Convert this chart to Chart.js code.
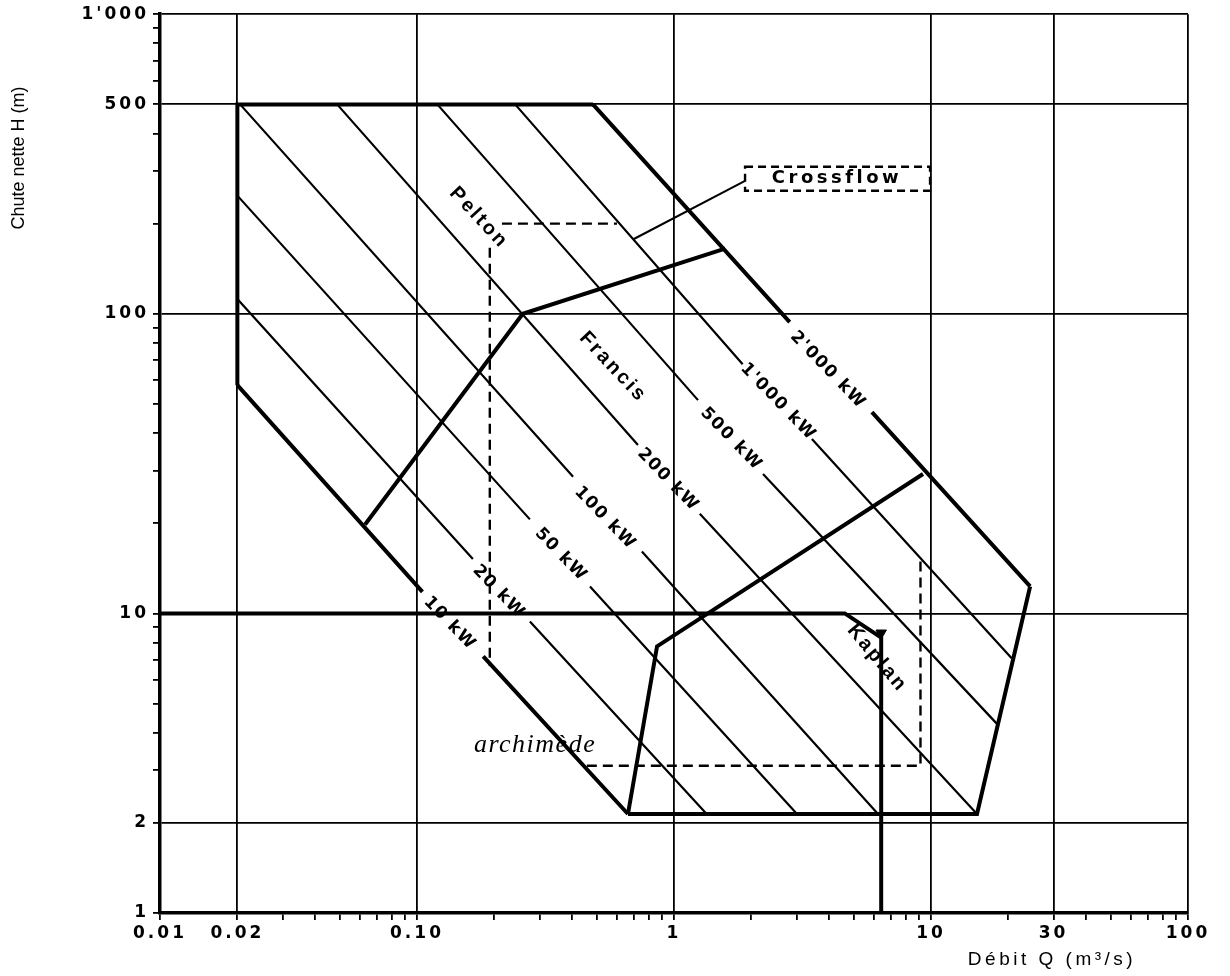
<!DOCTYPE html>
<html>
<head>
<meta charset="utf-8">
<script src="https://cdn.jsdelivr.net/npm/chart.js@4.4.0/dist/chart.umd.min.js"></script>
<style>
  html, body { margin: 0; padding: 0; background: #fff; }
  #wrap { width: 1230px; height: 976px; }
</style>
</head>
<body>
<div id="wrap"><canvas id="myChart"></canvas></div>
<script>
// axis ticks
const xTicks = [0.01, 0.02, 0.1, 1, 10, 30, 100];
const xTickLabels = ['0.01', '0.02', '0.10', '1', '10', '30', '100'];
const yTicks = [1, 2, 10, 100, 500, 1000];
const yTickLabels = ['1', '2', '10', '100', '500', "1'000"];

// iso-power lines as [Q, H] pairs, null = gap where the label sits
const kw10 = [[0.02, 57.8], [0.105, 11.8], null, [0.181, 7.19], [0.662, 2.14]];
const kw20 = [[0.02, 112], [0.165, 15.2], null, [0.275, 9.4], [1.34, 2.14]];
const kw50 = [[0.02, 248], [0.275, 20.6], null, [0.471, 12.3], [3.01, 2.14]];
const kw100 = [[0.0205, 500], [0.405, 28.6], null, [0.75, 16.1], [6.22, 2.14]];
const kw200 = [[0.0489, 500], [0.724, 36.5], null, [1.26, 21.5], [15.1, 2.14]];
const kw500 = [[0.12, 500], [1.24, 51.5], null, [2.22, 29.2], [18.1, 4.27]];
const kw1000 = [[0.241, 500], [1.85, 67.9], null, [3.44, 38.2], [20.6, 7.08]];
const kw2000 = [[0.484, 500], [2.82, 93.8], null, [5.89, 47.0], [24.3, 12.3]];

const powerNames = ['10 kW', '20 kW', '50 kW', '100 kW', '200 kW', '500 kW', "1'000 kW", "2'000 kW"];
const powerLabelQ = [0.134, 0.208, 0.363, 0.539, 0.948, 1.67, 2.54, 3.97];
const powerLabelH = [9.27, 11.8, 15.7, 20.8, 27.9, 38.2, 50.8, 64.9];

// domain boundaries
const leftEdge = [[0.02, 57.8], [0.02, 500], [0.484, 500]];
const rightEdge = [[24.3, 12.3], [15.1, 2.14], [0.662, 2.14]];
const peltonFrancis = [[0.0628, 19.8], [0.258, 100], [1.58, 165]];
const francisKaplan = [[0.662, 2.14], [0.859, 7.76], [9.31, 29.2]];
const kaplanLimit = [[0.01, 10], [4.62, 10], [6.4, 8.3], [6.4, 1]];
const kaplanArrow = [[6.4, 8.6]];
const crossflow = [[0.214, 200], [0.6, 200], null, [0.192, 166], [0.192, 6.67], null, [0.458, 3.1], [9.1, 3.1], [9.1, 15.1]];
const crossflowLeader = [[0.692, 177], [1.89, 278]];

const turbineNames = ['Pelton', 'Francis', 'Kaplan'];
const turbineQ = [0.174, 0.579, 6.17];
const turbineH = [209, 66.4, 7.08];

// minor tick positions 1..9 per decade
const decadeTicks = (lo, hi) => {
  const out = [];
  for (let d = lo; d < hi; d *= 10) for (let k = 1; k < 10; k++) out.push(+(k * d).toPrecision(3));
  out.push(hi);
  return out;
};
const xAll = decadeTicks(0.01, 100);
const yAll = decadeTicks(1, 1000).filter(v => v >= 2 || v === 1);

const findIdx = (list, v) => list.findIndex(t => Math.abs(v - t) / t < 1e-6);

const toPoints = arr => arr.map((p, i) => p ? { x: p[0], y: p[1] } : { x: arr[i - 1][0], y: null });
const seg = (data, width, dash) => ({
  data: toPoints(data),
  showLine: true,
  borderColor: '#000',
  backgroundColor: '#000',
  borderWidth: width,
  borderDash: dash || [],
  pointRadius: 0,
  tension: 0
});

const drawText = (ctx, text, x, y, angle, font, spacing) => {
  ctx.save();
  ctx.translate(x, y);
  ctx.rotate(angle * Math.PI / 180);
  ctx.font = font;
  ctx.letterSpacing = spacing + 'px';
  ctx.textAlign = 'center';
  ctx.textBaseline = 'middle';
  ctx.fillStyle = '#000';
  ctx.fillText(text, 0, 0);
  ctx.restore();
};

const annotations = {
  id: 'annotations',
  beforeDraw(chart) { chart.ctx.letterSpacing = '3px'; },
  afterDraw(chart) {
    const { ctx, scales: { x, y } } = chart;
    powerNames.forEach((t, i) => {
      drawText(ctx, t, x.getPixelForValue(powerLabelQ[i]), y.getPixelForValue(powerLabelH[i]), 46, 'bold 17px "DejaVu Sans"', 1.5);
    });
    turbineNames.forEach((t, i) => {
      drawText(ctx, t, x.getPixelForValue(turbineQ[i]), y.getPixelForValue(turbineH[i]), i === 2 ? 50 : 47, 'bold 20px "Liberation Sans"', 2.5);
    });
    drawText(ctx, 'archimède', x.getPixelForValue(0.288), y.getPixelForValue(3.64), 0, 'italic 26px "Liberation Serif"', 1.5);

    // Crossflow box at the end of the leader line
    const bx = x.getPixelForValue(crossflowLeader[1][0]);
    const by = y.getPixelForValue(crossflowLeader[1][1]);
    ctx.save();
    ctx.strokeStyle = '#000';
    ctx.lineWidth = 2.4;
    ctx.setLineDash([8, 5]);
    ctx.strokeRect(bx, by - 14, 185, 24);
    ctx.restore();
    drawText(ctx, 'Crossflow', bx + 92, by - 2, 0, 'bold 18px "DejaVu Sans"', 3.5);

    // axis titles
    drawText(ctx, 'Chute nette H (m)', 19, 158, -90, '18px "Liberation Sans"', 0);
    drawText(ctx, 'Débit Q (m³/s)', 1052, 960, 0, '19px "Liberation Sans"', 3.5);
  }
};

new Chart('myChart', {
  type: 'scatter',
  data: {
    datasets: [
      seg(kw20, 2.2), seg(kw50, 2.2), seg(kw100, 2.2), seg(kw200, 2.2), seg(kw500, 2.2), seg(kw1000, 2.2),
      seg(kw10, 4), seg(kw2000, 4),
      seg(leftEdge, 4), seg(rightEdge, 4), seg(peltonFrancis, 4), seg(francisKaplan, 4),
      seg(kaplanLimit, 4),
      seg(crossflow, 2.4, [10, 6]), seg(crossflowLeader, 2),
      { data: toPoints(kaplanArrow), pointStyle: 'triangle', pointRadius: 6, rotation: 180,
        backgroundColor: '#000', borderColor: '#000', showLine: false }
    ]
  },
  options: {
    responsive: true,
    maintainAspectRatio: false,
    animation: false,
    layout: { padding: { top: 11, right: 42, left: 0, bottom: 0 } },
    plugins: { legend: { display: false }, tooltip: { enabled: false } },
    scales: {
      x: {
        type: 'logarithmic',
        min: 0.01,
        max: 100,
        afterBuildTicks: s => { s.ticks = xAll.map(v => ({ value: v })); },
        afterFit: s => { s.height = 63; },
        border: { color: '#000', width: 3.5 },
        grid: {
          color: c => findIdx(xTicks, c.tick.value) >= 0 ? '#000' : 'rgba(0,0,0,0)',
          tickColor: '#000',
          lineWidth: 1.8,
          tickLength: 7
        },
        ticks: {
          autoSkip: false, maxRotation: 0, minRotation: 0, padding: 3, color: '#000',
          font: { family: 'DejaVu Sans', weight: 'bold', size: 17 },
          callback: v => { const i = findIdx(xTicks, v); return i >= 0 ? xTickLabels[i] : ''; }
        }
      },
      y: {
        type: 'logarithmic',
        min: 1,
        max: 1000,
        afterBuildTicks: s => { s.ticks = yAll.map(v => ({ value: v })); },
        afterFit: s => { s.width = 160; },
        border: { color: '#000', width: 3.5 },
        grid: {
          color: c => findIdx(yTicks, c.tick.value) >= 0 ? '#000' : 'rgba(0,0,0,0)',
          tickColor: '#000',
          lineWidth: 1.8,
          tickLength: 7
        },
        ticks: {
          autoSkip: false, padding: 4, color: '#000',
          font: { family: 'DejaVu Sans', weight: 'bold', size: 17 },
          callback: v => { const i = findIdx(yTicks, v); return i >= 0 ? yTickLabels[i] : ''; }
        }
      }
    }
  },
  plugins: [annotations]
});
</script>
</body>
</html>
